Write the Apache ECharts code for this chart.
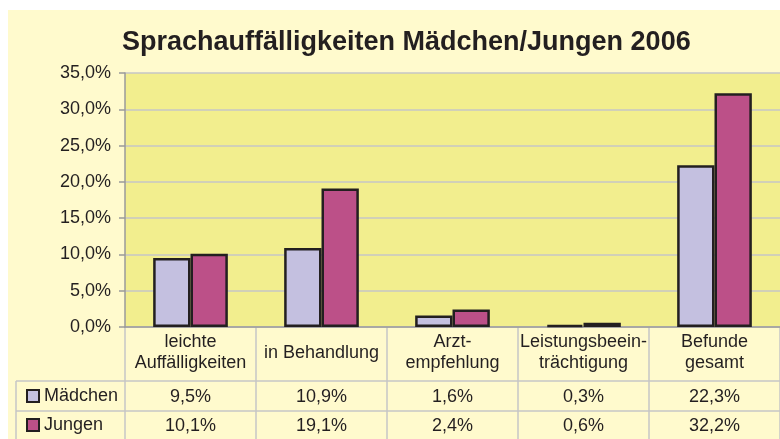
<!DOCTYPE html>
<html>
<head>
<meta charset="utf-8">
<script src="https://cdn.jsdelivr.net/npm/echarts@6/dist/echarts.min.js"></script>
<style>
html,body{margin:0;padding:0;background:#ffffff;width:780px;height:439px;overflow:hidden;}
#chart{position:absolute;left:8px;top:10px;width:772px;height:429px;}
</style>
</head>
<body>
<div id="chart"></div>
<script>
const titleText = 'Sprachauffälligkeiten Mädchen/Jungen 2006';
const categories = ['leichte\nAuffälligkeiten', 'in Behandlung', 'Arzt-\nempfehlung', 'Leistungsbeein-\nträchtigung', 'Befunde\ngesamt'];
const seriesNames = ['Mädchen', 'Jungen'];
const maedchen = [9.5, 10.9, 1.6, 0.3, 22.3];
const jungen = [10.1, 19.1, 2.4, 0.6, 32.2];
const yTicks = [0, 5, 10, 15, 20, 25, 30, 35];

const fmt = v => v.toFixed(1).replace('.', ',') + '%';
const textColor = '#231F20';
const font = 'Liberation Sans, Arial, sans-serif';
const lineGray = '#c6c6c6';

const chart = echarts.init(document.getElementById('chart'));
chart.setOption({
  backgroundColor: '#FFFACD',
  animation: false,
  textStyle: { fontFamily: font, color: textColor },
  title: {
    text: titleText,
    left: 109, top: 14,
    textStyle: { fontFamily: font, fontSize: 27, fontWeight: 'bold', color: textColor }
  },
  legend: {
    orient: 'vertical',
    left: 18, top: 376, height: 80,
    padding: 0,
    itemWidth: 12, itemHeight: 12, itemGap: 9,
    icon: 'rect',
    data: seriesNames,
    textStyle: { fontFamily: font, fontSize: 18, lineHeight: 20, color: textColor }
  },
  grid: [
    { left: 117, right: -8, top: 63, bottom: 112, show: true, backgroundColor: '#F2EE8E', borderWidth: 0 },
    { left: 117, right: -8, top: 317, bottom: 0, show: false }
  ],
  xAxis: [
    {
      type: 'category', gridIndex: 0, data: categories,
      axisLine: { show: true, lineStyle: { color: '#9a9a9a', width: 1.5 } },
      axisTick: { show: false },
      axisLabel: { fontFamily: font, fontSize: 18, color: textColor, lineHeight: 21, margin: 26, verticalAlign: 'middle', interval: 0 }
    },
    {
      type: 'category', gridIndex: 0, data: categories, position: 'bottom', offset: 70,
      axisLine: { show: false }, axisTick: { show: false },
      axisLabel: { fontFamily: font, fontSize: 18, color: textColor, margin: 0, verticalAlign: 'middle', interval: 0,
        formatter: (v, i) => fmt(maedchen[i]) }
    },
    {
      type: 'category', gridIndex: 0, data: categories, position: 'bottom', offset: 99,
      axisLine: { show: false }, axisTick: { show: false },
      axisLabel: { fontFamily: font, fontSize: 18, color: textColor, margin: 0, verticalAlign: 'middle', interval: 0,
        formatter: (v, i) => fmt(jungen[i]) }
    },
    {
      type: 'category', gridIndex: 1, data: categories,
      axisLine: { show: false }, axisTick: { show: false }, axisLabel: { show: false },
      splitLine: { show: true, lineStyle: { color: lineGray, width: 1.5 } }
    }
  ],
  yAxis: [
    {
      type: 'value', gridIndex: 0, min: 0, max: 35, interval: 5,
      axisLine: { show: true, lineStyle: { color: '#9a9a9a', width: 1.5 } },
      axisTick: { show: true, length: 6, lineStyle: { color: '#9a9a9a', width: 1.5 } },
      splitLine: { show: true, lineStyle: { color: lineGray, width: 1.5 } },
      axisLabel: { fontFamily: font, fontSize: 18, color: textColor, margin: 14, formatter: v => fmt(v) }
    },
    { type: 'value', gridIndex: 1, show: false, min: 0, max: 1 }
  ],
  series: [
    {
      name: seriesNames[0], type: 'bar', xAxisIndex: 0, yAxisIndex: 0, data: maedchen,
      barGap: '0%', barCategoryGap: '43%',
      itemStyle: { color: '#C4C0E0', borderColor: '#231F20', borderWidth: 2.5 }
    },
    {
      name: seriesNames[1], type: 'bar', xAxisIndex: 0, yAxisIndex: 0, data: jungen,
      barGap: '0%', barCategoryGap: '43%',
      itemStyle: { color: '#BC5088', borderColor: '#231F20', borderWidth: 2.5 }
    }
  ],
  graphic: [
    { type: 'line', shape: { x1: 8, y1: 371, x2: 772, y2: 371 }, style: { stroke: lineGray, lineWidth: 1.5 } },
    { type: 'line', shape: { x1: 8, y1: 401, x2: 772, y2: 401 }, style: { stroke: lineGray, lineWidth: 1.5 } },
    { type: 'line', shape: { x1: 8, y1: 371, x2: 8, y2: 429 }, style: { stroke: lineGray, lineWidth: 1.5 } }
  ]
});
</script>
</body>
</html>
